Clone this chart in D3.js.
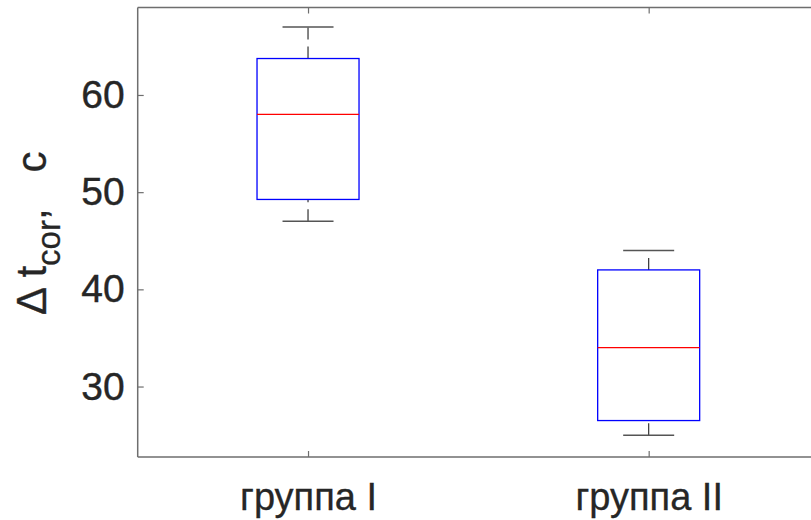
<!DOCTYPE html>
<html>
<head>
<meta charset="utf-8">
<script src="https://cdn.jsdelivr.net/npm/d3@7"></script>
<style>
  body { margin: 0; background: #fff; }
  svg { display: block; font-family: "Liberation Sans", Arial, sans-serif; }
</style>
</head>
<body>
<svg id="chart" width="811" height="520"></svg>
<script>
// box plot data
const groups = ["группа I", "группа II"];
const whiskerLow = [47, 25];
const q1 = [49.25, 26.5];
const median = [58, 34];
const q3 = [63.75, 42];
const whiskerHigh = [67, 44];
const yTicks = [30, 40, 50, 60];

const svg = d3.select("#chart");
const plotLeft = 137.7, plotRight = 819, plotTop = 7.5, plotBottom = 457;
const axisColor = "#6e6e6e";
const textColor = "#262626";

const x = d3.scaleLinear().domain([0.5, 2.5]).range([plotLeft, plotRight]);
const y = d3.scaleLinear().domain([22.75, 69]).range([plotBottom, plotTop]);

const boxW = 102, capW = 51;

// axes frame
const frame = svg.append("g").attr("stroke", axisColor).attr("stroke-width", 1.5).attr("fill", "none");
frame.append("line").attr("x1", plotLeft).attr("x2", 811).attr("y1", plotTop).attr("y2", plotTop);
frame.append("line").attr("x1", plotLeft).attr("x2", 811).attr("y1", plotBottom).attr("y2", plotBottom);
frame.append("line").attr("x1", plotLeft).attr("x2", plotLeft).attr("y1", plotTop).attr("y2", plotBottom);

// y axis ticks (inward) with labels
const yAxis = d3.axisLeft(y).tickValues(yTicks).tickSizeInner(-6).tickSizeOuter(0).tickPadding(13);
const gy = svg.append("g").attr("transform", `translate(${plotLeft},0)`).call(yAxis);
gy.select(".domain").remove();
gy.selectAll(".tick line").attr("stroke", axisColor).attr("stroke-width", 1.2);
gy.selectAll(".tick text").attr("fill", textColor).attr("font-size", 39)
  .attr("stroke", textColor).attr("stroke-width", 0.4)
  .attr("font-family", "Liberation Sans, Arial, sans-serif");

// x axis ticks at bottom and top (inward)
const idx = groups.map((d, i) => i + 1);
const xAxis = d3.axisBottom(x).tickValues(idx).tickFormat(d => groups[d - 1])
  .tickSizeInner(-6).tickSizeOuter(0).tickPadding(26);
const gx = svg.append("g").attr("transform", `translate(0,${plotBottom})`).call(xAxis);
gx.select(".domain").remove();
gx.selectAll(".tick line").attr("stroke", axisColor).attr("stroke-width", 1.2);
gx.selectAll(".tick text").attr("fill", textColor).attr("font-size", 38)
  .attr("stroke", textColor).attr("stroke-width", 0.3)
  .attr("font-family", "Liberation Sans, Arial, sans-serif");

const gxTop = svg.append("g").attr("transform", `translate(0,${plotTop})`)
  .call(d3.axisTop(x).tickValues(idx).tickFormat("").tickSizeInner(-6).tickSizeOuter(0));
gxTop.select(".domain").remove();
gxTop.selectAll(".tick line").attr("stroke", axisColor).attr("stroke-width", 1.2);

// boxes
const boxes = svg.append("g").selectAll("g").data(groups).join("g");

// whiskers (dashed), drawn from the lower value to the higher value
boxes.append("line")
  .attr("x1", (d, i) => x(i + 1)).attr("x2", (d, i) => x(i + 1))
  .attr("y1", (d, i) => y(q3[i])).attr("y2", (d, i) => y(whiskerHigh[i]))
  .attr("stroke", "#333").attr("stroke-width", 1.2).attr("stroke-dasharray", "12,7");
boxes.append("line")
  .attr("x1", (d, i) => x(i + 1)).attr("x2", (d, i) => x(i + 1))
  .attr("y1", (d, i) => y(whiskerLow[i])).attr("y2", (d, i) => y(q1[i]))
  .attr("stroke", "#333").attr("stroke-width", 1.2).attr("stroke-dasharray", "12,7");

// caps
[whiskerHigh, whiskerLow].forEach(arr => {
  boxes.append("line")
    .attr("x1", (d, i) => x(i + 1) - capW / 2).attr("x2", (d, i) => x(i + 1) + capW / 2)
    .attr("y1", (d, i) => y(arr[i])).attr("y2", (d, i) => y(arr[i]))
    .attr("stroke", "#555").attr("stroke-width", 1.5);
});

// box
boxes.append("rect")
  .attr("x", (d, i) => x(i + 1) - boxW / 2).attr("width", boxW)
  .attr("y", (d, i) => y(q3[i])).attr("height", (d, i) => y(q1[i]) - y(q3[i]))
  .attr("fill", "none").attr("stroke", "#0000ff").attr("stroke-width", 1.3);

// median
boxes.append("line")
  .attr("x1", (d, i) => x(i + 1) - boxW / 2).attr("x2", (d, i) => x(i + 1) + boxW / 2)
  .attr("y1", (d, i) => y(median[i])).attr("y2", (d, i) => y(median[i]))
  .attr("stroke", "#ff0000").attr("stroke-width", 1.3);

// y label: Δ t_cor, c
const lab = svg.append("text")
  .attr("transform", "translate(46,315) rotate(-90)")
  .attr("text-anchor", "start").attr("fill", textColor).attr("font-size", 42)
  .attr("stroke", textColor).attr("stroke-width", 0.3);
lab.append("tspan").text("\u0394 t");
lab.append("tspan").attr("font-size", 33).attr("dy", 14).text("cor");
lab.append("tspan").attr("dy", -14).text(",");
lab.append("tspan").attr("dx", 36).text("c");
</script>
</body>
</html>
